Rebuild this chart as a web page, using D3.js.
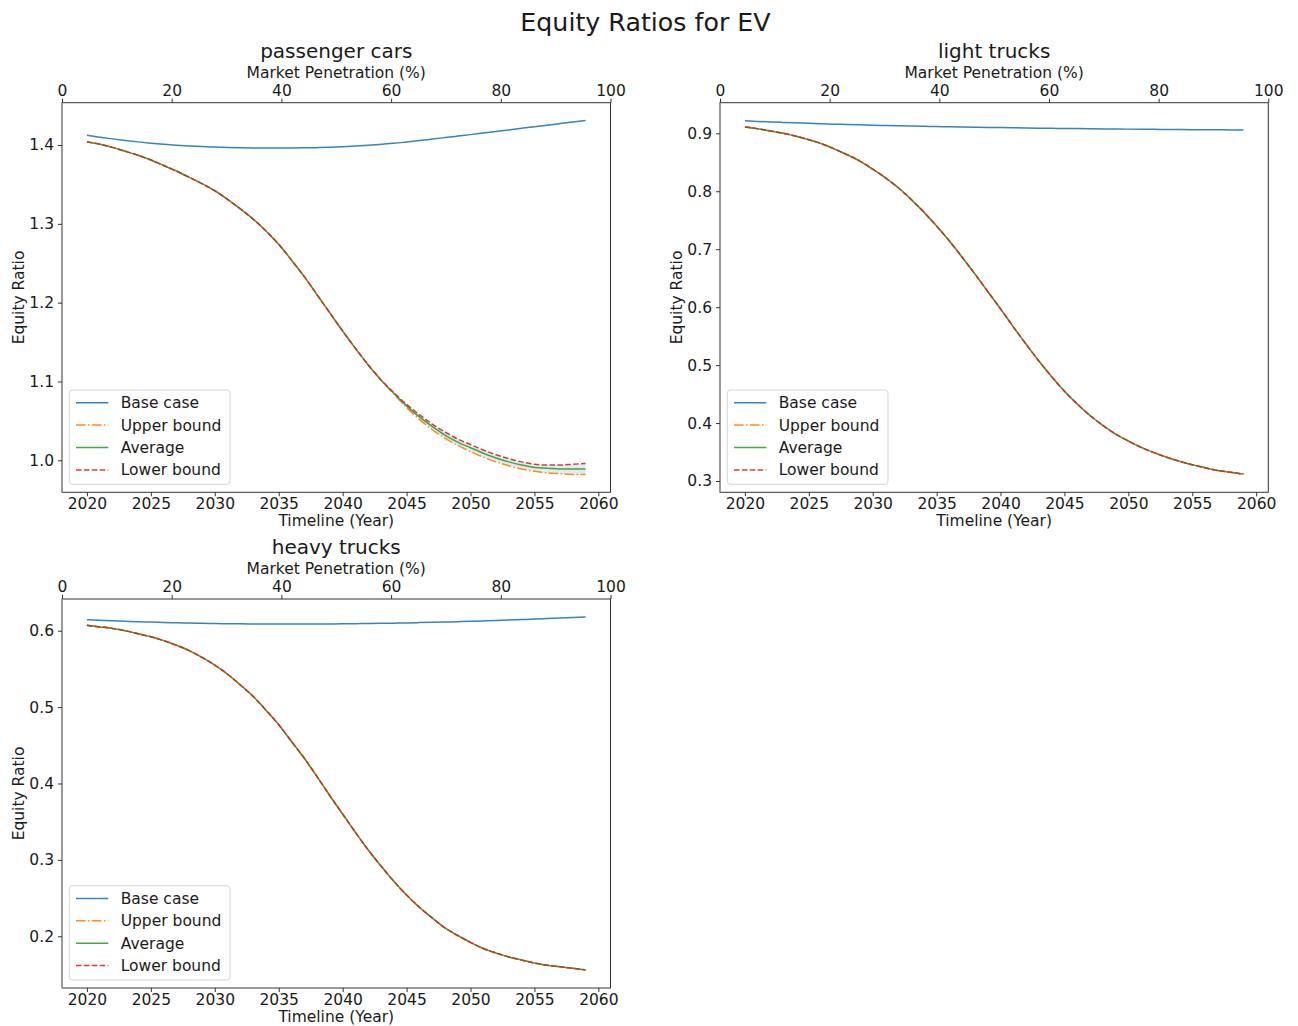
<!DOCTYPE html>
<html>
<head>
<meta charset="utf-8">
<script src="https://cdn.jsdelivr.net/npm/d3@7"></script>
<style>
  html, body { margin: 0; padding: 0; background: #fff; }
  svg { display: block; font-family: "DejaVu Sans", sans-serif; }
</style>
</head>
<body>
<svg id="chart" width="1298" height="1026"></svg>
<script>
// Timeline shared by every vehicle class
const years = [2020, 2021, 2022, 2023, 2024, 2025, 2026, 2027, 2028, 2029,
               2030, 2031, 2032, 2033, 2034, 2035, 2036, 2037, 2038, 2039,
               2040, 2041, 2042, 2043, 2044, 2045, 2046, 2047, 2048, 2049,
               2050, 2051, 2052, 2053, 2054, 2055, 2056, 2057, 2058, 2059];

// Passenger cars
const passengerBase = [1.4125, 1.4100, 1.4078, 1.4058, 1.4040, 1.4024, 1.4010, 1.3998, 1.3988, 1.3980,
                       1.3974, 1.3969, 1.3965, 1.3962, 1.3961, 1.3961, 1.3962, 1.3964, 1.3967, 1.3972,
                       1.3979, 1.3988, 1.3998, 1.4009, 1.4021, 1.4038, 1.4056, 1.4075, 1.4094, 1.4113,
                       1.4132, 1.4152, 1.4172, 1.4192, 1.4212, 1.4232, 1.4252, 1.4272, 1.4292, 1.4312];
const passengerUpper = [1.404, 1.401, 1.397, 1.392, 1.387, 1.381, 1.374, 1.367, 1.359, 1.351,
                        1.342, 1.331, 1.319, 1.306, 1.291, 1.274, 1.254, 1.233, 1.210, 1.187,
                        1.164, 1.142, 1.121, 1.102, 1.084, 1.067, 1.052, 1.039, 1.028, 1.019,
                        1.011, 1.004, 0.998, 0.993, 0.989, 0.986, 0.984, 0.983, 0.982, 0.982];
const passengerAverage = [1.404, 1.401, 1.397, 1.392, 1.387, 1.381, 1.374, 1.367, 1.359, 1.351,
                          1.342, 1.331, 1.319, 1.306, 1.291, 1.274, 1.254, 1.233, 1.210, 1.187,
                          1.164, 1.142, 1.121, 1.102, 1.085, 1.069, 1.055, 1.043, 1.032, 1.023,
                          1.016, 1.009, 1.003, 0.998, 0.994, 0.991, 0.990, 0.989, 0.989, 0.989];
const passengerLower = [1.404, 1.401, 1.397, 1.392, 1.387, 1.381, 1.374, 1.367, 1.359, 1.351,
                        1.342, 1.331, 1.319, 1.306, 1.291, 1.274, 1.254, 1.233, 1.210, 1.187,
                        1.164, 1.142, 1.121, 1.102, 1.086, 1.071, 1.058, 1.046, 1.036, 1.027,
                        1.020, 1.013, 1.007, 1.002, 0.998, 0.995, 0.994, 0.994, 0.995, 0.996];

// Light trucks
const lightBase = [0.9215, 0.9205, 0.9196, 0.9188, 0.9180, 0.9172, 0.9165, 0.9158, 0.9152, 0.9146,
                   0.9140, 0.9135, 0.9130, 0.9125, 0.9120, 0.9116, 0.9112, 0.9108, 0.9104, 0.9101,
                   0.9098, 0.9095, 0.9092, 0.9089, 0.9086, 0.9083, 0.9081, 0.9078, 0.9076, 0.9074,
                   0.9072, 0.9070, 0.9068, 0.9066, 0.9064, 0.9063, 0.9061, 0.9060, 0.9058, 0.9057];
const lightAverage = [0.911, 0.908, 0.904, 0.900, 0.895, 0.889, 0.882, 0.873, 0.863, 0.852,
                      0.838, 0.823, 0.806, 0.786, 0.764, 0.740, 0.714, 0.686, 0.657, 0.627,
                      0.597, 0.566, 0.536, 0.507, 0.480, 0.455, 0.433, 0.413, 0.396, 0.381,
                      0.369, 0.358, 0.349, 0.341, 0.334, 0.328, 0.323, 0.318, 0.315, 0.312];
// the bounds for light trucks sit on top of the average
const lightUpper = lightAverage;
const lightLower = lightAverage;

// Heavy trucks
const heavyBase = [0.6144, 0.6137, 0.6130, 0.6124, 0.6118, 0.6113, 0.6108, 0.6104, 0.6100, 0.6097,
                   0.6094, 0.6092, 0.6090, 0.6089, 0.6088, 0.6087, 0.6087, 0.6087, 0.6088, 0.6089,
                   0.6090, 0.6092, 0.6094, 0.6096, 0.6099, 0.6102, 0.6106, 0.6110, 0.6114, 0.6118,
                   0.6123, 0.6128, 0.6134, 0.6140, 0.6146, 0.6152, 0.6159, 0.6166, 0.6173, 0.6180];
const heavyAverage = [0.607, 0.605, 0.603, 0.600, 0.596, 0.592, 0.587, 0.581, 0.574, 0.565,
                      0.555, 0.543, 0.529, 0.514, 0.496, 0.477, 0.455, 0.433, 0.409, 0.384,
                      0.360, 0.336, 0.313, 0.292, 0.272, 0.254, 0.238, 0.224, 0.211, 0.201,
                      0.192, 0.184, 0.178, 0.173, 0.169, 0.165, 0.162, 0.160, 0.158, 0.156];
// the bounds for heavy trucks sit on top of the average
const heavyUpper = heavyAverage;
const heavyLower = heavyAverage;

// Axis ticks
const yearTicks = [2020, 2025, 2030, 2035, 2040, 2045, 2050, 2055, 2060];
const penetrationTicks = [0, 20, 40, 60, 80, 100];
const passengerTicks = [1.0, 1.1, 1.2, 1.3, 1.4];
const lightTicks = [0.3, 0.4, 0.5, 0.6, 0.7, 0.8, 0.9];
const heavyTicks = [0.2, 0.3, 0.4, 0.5, 0.6];

const seriesNames = ["Base case", "Upper bound", "Average", "Lower bound"];
const seriesColors = ["#1f77b4", "#ff7f0e", "#2ca02c", "#d62728"];
const seriesDash = [null, "9.6,2.4,1.5,2.4", null, "5.5,2.4"];

// Panel frames (pixel boxes) and value ranges
const panels = [
  { title: "passenger cars", box: [62, 102.7, 610.5, 492.3], yDomain: [0.9594, 1.4537], yTicks: passengerTicks,
    series: [passengerBase, passengerUpper, passengerAverage, passengerLower], band: true },
  { title: "light trucks", box: [720, 102.7, 1268.3, 492.3], yDomain: [0.2805, 0.9528], yTicks: lightTicks,
    series: [lightBase, lightUpper, lightAverage, lightLower], band: false },
  { title: "heavy trucks", box: [62, 599, 610.5, 988], yDomain: [0.1323, 0.6415], yTicks: heavyTicks,
    series: [heavyBase, heavyUpper, heavyAverage, heavyLower], band: false }
];

const svg = d3.select("#chart");
const TEXT = "#1a1a1a";
const TICK_FONT = 15.5;

svg.append("text")
  .attr("x", 645.5).attr("y", 31)
  .attr("text-anchor", "middle")
  .attr("font-size", 25.3)
  .attr("fill", TEXT)
  .text("Equity Ratios for EV");

panels.forEach(p => {
  const [x0, y0, x1, y1] = p.box;
  const g = svg.append("g");

  const x = d3.scaleLinear().domain([2018.05, 2060.95]).range([x0, x1]);
  const xTop = d3.scaleLinear().domain([0, 100]).range([x0, x1]);
  const y = d3.scaleLinear().domain(p.yDomain).range([y1, y0]);

  // uncertainty band between the bounds
  if (p.band) {
    const area = d3.area()
      .x((d, i) => x(years[i]))
      .y0((d, i) => y(p.series[1][i]))
      .y1((d, i) => y(p.series[3][i]))
      .curve(d3.curveMonotoneX);
    g.append("path")
      .datum(years)
      .attr("d", area)
      .attr("fill", "#8fb0c4")
      .attr("fill-opacity", 0.25);
  }

  const line = d3.line().curve(d3.curveMonotoneX);
  p.series.forEach((vals, si) => {
    g.append("path")
      .datum(vals.map((v, i) => [x(years[i]), y(v)]))
      .attr("d", line)
      .attr("fill", "none")
      .attr("stroke", seriesColors[si])
      .attr("stroke-width", 1.5)
      .attr("stroke-opacity", 0.9)
      .attr("stroke-dasharray", seriesDash[si]);
  });

  // frame
  g.append("rect")
    .attr("x", x0).attr("y", y0)
    .attr("width", x1 - x0).attr("height", y1 - y0)
    .attr("fill", "none").attr("stroke", "#333").attr("stroke-width", 1);
  g.append("line")
    .attr("x1", x0).attr("x2", x0).attr("y1", y0).attr("y2", y1)
    .attr("stroke", "#999").attr("stroke-width", 2);

  // axes
  const styleAxis = sel => {
    sel.select(".domain").remove();
    sel.selectAll(".tick line").attr("stroke", "#333");
    sel.selectAll(".tick text").attr("fill", TEXT).attr("font-size", TICK_FONT)
      .attr("font-family", "DejaVu Sans, sans-serif");
  };
  g.append("g")
    .attr("transform", `translate(0,${y1})`)
    .call(d3.axisBottom(x).tickValues(yearTicks).tickFormat(d3.format("d")).tickSize(4).tickPadding(2))
    .call(styleAxis);
  g.append("g")
    .attr("transform", `translate(0,${y0})`)
    .call(d3.axisTop(xTop).tickValues(penetrationTicks).tickFormat(d3.format("d")).tickSize(4).tickPadding(3))
    .call(styleAxis);
  g.append("g")
    .attr("transform", `translate(${x0},0)`)
    .call(d3.axisLeft(y).tickValues(p.yTicks).tickFormat(d3.format(".1f")).tickSize(4).tickPadding(4))
    .call(styleAxis);

  const cx = (x0 + x1) / 2;
  g.append("text").attr("x", cx).attr("y", y1 + 34)
    .attr("text-anchor", "middle").attr("font-size", TICK_FONT).attr("fill", TEXT)
    .text("Timeline (Year)");
  g.append("text").attr("x", cx).attr("y", y0 - 25)
    .attr("text-anchor", "middle").attr("font-size", TICK_FONT).attr("fill", TEXT)
    .text("Market Penetration (%)");
  g.append("text").attr("x", cx).attr("y", y0 - 45)
    .attr("text-anchor", "middle").attr("font-size", 20).attr("fill", TEXT)
    .text(p.title);
  g.append("text")
    .attr("transform", `translate(${x0 - 38},${(y0 + y1) / 2}) rotate(-90)`)
    .attr("text-anchor", "middle").attr("font-size", TICK_FONT).attr("fill", TEXT)
    .text("Equity Ratio");

  // legend
  const lg = g.append("g").attr("transform", `translate(${x0 + 7.3},${y1 - 102.3})`);
  lg.append("rect")
    .attr("width", 160.7).attr("height", 94.3).attr("rx", 3)
    .attr("fill", "#fff").attr("fill-opacity", 0.8)
    .attr("stroke", "#d5d5d5").attr("stroke-width", 1);
  seriesNames.forEach((name, i) => {
    const ry = 12.7 + i * 22.4;
    lg.append("line")
      .attr("x1", 6.7).attr("x2", 39).attr("y1", ry).attr("y2", ry)
      .attr("stroke", seriesColors[i]).attr("stroke-width", 1.5).attr("stroke-opacity", 0.9)
      .attr("stroke-dasharray", seriesDash[i]);
    lg.append("text")
      .attr("x", 51.4).attr("y", ry).attr("dy", "0.35em")
      .attr("font-size", TICK_FONT).attr("fill", TEXT)
      .text(name);
  });
});
</script>
</body>
</html>
